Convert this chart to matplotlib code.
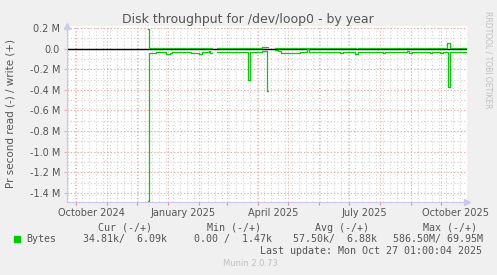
import matplotlib
matplotlib.use("Agg")
import matplotlib.pyplot as plt
import numpy as np
import pandas as pd

# ---------------- data (k bytes / s), change points of a step series ----------------
read_dates = ["2024-12-12", "2024-12-13", "2024-12-20", "2024-12-30", "2025-01-01", "2025-01-03",
              "2025-01-05", "2025-01-14", "2025-01-24", "2025-02-01", "2025-02-04", "2025-02-11",
              "2025-02-12", "2025-02-14", "2025-02-19", "2025-03-04", "2025-03-10", "2025-03-22",
              "2025-03-24", "2025-04-05", "2025-04-10", "2025-04-11", "2025-04-18", "2025-04-21",
              "2025-04-24", "2025-05-13", "2025-05-20", "2025-05-22", "2025-06-22", "2025-06-25",
              "2025-07-07", "2025-07-10", "2025-08-04", "2025-08-06", "2025-08-28", "2025-08-30",
              "2025-09-02", "2025-09-20", "2025-09-22", "2025-09-30", "2025-10-03", "2025-10-08",
              "2025-10-10", "2025-10-27"]
read_vals = [-1480, -38, -33, -48, -56, -40,
             -33, -36, -39, -54, -34, -26,
             -46, np.nan, -36, -32, -36, -300,
             -36, -20, -410, np.nan, -10, -25,
             -38, -33, -5, -36, -45, -36,
             -50, -36, -44, -36, -28, -40,
             -34, -42, -35, -46, -36, -370,
             -36, -35]

write_dates = ["2024-12-12", "2024-12-13", "2025-02-14", "2025-02-19", "2025-04-05", "2025-04-11",
               "2025-04-18", "2025-07-08", "2025-07-10", "2025-10-07", "2025-10-10", "2025-10-27"]
write_vals = [190, 4, np.nan, 4, 18, np.nan,
              5, np.nan, 5, 55, 5, 5]

ytick_vals = [0.2, 0.0, -0.2, -0.4, -0.6, -0.8, -1.0, -1.2, -1.4]   # M
xlabel_dates = ["2024-10-16", "2025-01-16", "2025-04-16", "2025-07-16", "2025-10-16"]
xlabel_texts = ["October 2024", "January 2025", "April 2025", "July 2025", "October 2025"]

legend_cur = "34.81k/  6.09k"
legend_min = "0.00 /  1.47k"
legend_avg = "57.50k/  6.88k"
legend_max = "586.50M/ 69.95M"

# ---------------- figure ----------------
W, H = 497, 275
fig = plt.figure(figsize=(W / 100, H / 100), dpi=100, facecolor="#f0f0f0")

def fx(x):
    return x / W

def fy(y):
    return 1 - y / H

ax = fig.add_axes([fx(67), fy(202), fx(467) - fx(67), fy(26) - fy(202)])
ax.set_facecolor("white")

green = "#00cc00"
rd = pd.to_datetime(read_dates)
wd = pd.to_datetime(write_dates)

ax.set_xlim(pd.Timestamp("2024-09-22"), pd.Timestamp("2025-10-27"))
ax.set_ylim(-1487e3, 219e3)

# grids
red_grid = "#eeaaaa"
grey_grid = "#d0d0d0"
months = pd.date_range("2024-10-01", "2025-10-01", freq="MS")
weeks = pd.date_range("2024-09-23", "2025-10-27", freq="7D")
for w in weeks:
    ax.axvline(w, color=grey_grid, lw=0.8, ls=(0, (1, 2)), zorder=1)
for m in months:
    ax.axvline(m, color=red_grid, lw=0.8, ls=(0, (1, 2)), zorder=1.5)
for v in np.arange(-1.4, 0.25, 0.1):
    ax.axhline(v * 1e6, color=grey_grid, lw=0.8, ls=(0, (1, 2)), zorder=1)
for v in ytick_vals:
    ax.axhline(v * 1e6, color=red_grid, lw=0.8, ls=(0, (1, 2)), zorder=1.5)

# zero line
ax.axhline(0, color="black", lw=1.0, zorder=2)

# data
ax.plot(rd, np.array(read_vals) * 1e3, drawstyle="steps-post", color=green, lw=0.9, zorder=3)
ax.plot(wd, np.array(write_vals) * 1e3, drawstyle="steps-post", color=green, lw=0.9, zorder=3)

# axes styling
for s in ["top", "right"]:
    ax.spines[s].set_visible(False)
axis_col = "#c8c8f0"
ax.spines["left"].set_color(axis_col)
ax.spines["bottom"].set_color(axis_col)
ax.spines["left"].set_linewidth(0.8)
ax.spines["bottom"].set_linewidth(0.8)
ax.plot([1.0], [0], marker=">", color=axis_col, ms=4, transform=ax.transAxes, clip_on=False)
ax.plot([0], [1.0], marker="^", color=axis_col, ms=4, transform=ax.transAxes, clip_on=False)

ax.set_yticks([v * 1e6 for v in ytick_vals])
ax.set_yticklabels([("0.0" if v == 0 else f"{v:.1f} M") for v in ytick_vals],
                   fontsize=7, color="#555555")
ax.tick_params(axis="y", length=2, color=red_grid, pad=3)
ax.set_xticks(months)
ax.set_xticklabels([])
ax.tick_params(axis="x", length=2, color="#ee8888")
for d, t in zip(xlabel_dates, xlabel_texts):
    ax.text(pd.Timestamp(d), -0.0625, t, transform=ax.get_xaxis_transform(),
            ha="center", va="center", fontsize=7, color="#555555")

# titles
fig.text(fx(248), fy(19), "Disk throughput for /dev/loop0 - by year", ha="center", va="center",
         fontsize=9, color="#555555")
fig.text(fx(11), fy(113), "Pr second read (-) / write (+)", rotation=90, ha="center", va="center",
         fontsize=7.5, color="#555555")
fig.text(fx(488), fy(60), "RRDTOOL / TOBI OETIKER", rotation=270, ha="center", va="center",
         fontsize=5.5, color="#c0c0c0")

# legend
mono = "DejaVu Sans Mono"
lc = "#555555"
fs = 7.2
fig.text(fx(98), fy(228), "Cur (-/+)", family=mono, fontsize=fs, color=lc, va="center")
fig.text(fx(207), fy(228), "Min (-/+)", family=mono, fontsize=fs, color=lc, va="center")
fig.text(fx(315), fy(228), "Avg (-/+)", family=mono, fontsize=fs, color=lc, va="center")
fig.text(fx(423), fy(228), "Max (-/+)", family=mono, fontsize=fs, color=lc, va="center")
fig.patches.append(plt.Rectangle((fx(14), fy(242)), fx(6), fy(236) - fy(242), color=green,
                                 transform=fig.transFigure, figure=fig))
fig.text(fx(26), fy(239), "Bytes", family=mono, fontsize=fs, color=lc, va="center")
fig.text(fx(83), fy(239), legend_cur, family=mono, fontsize=fs, color=lc, va="center")
fig.text(fx(194), fy(239), legend_min, family=mono, fontsize=fs, color=lc, va="center")
fig.text(fx(293), fy(239), legend_avg, family=mono, fontsize=fs, color=lc, va="center")
fig.text(fx(393), fy(239), legend_max, family=mono, fontsize=fs, color=lc, va="center")
fig.text(fx(482), fy(251), "Last update: Mon Oct 27 01:00:04 2025", family=mono, fontsize=fs,
         color=lc, va="center", ha="right")
fig.text(fx(250), fy(264), "Munin 2.0.73", fontsize=6, color="#c0c0c0", va="center", ha="center")

fig.savefig("out.png", dpi=100, facecolor=fig.get_facecolor())
